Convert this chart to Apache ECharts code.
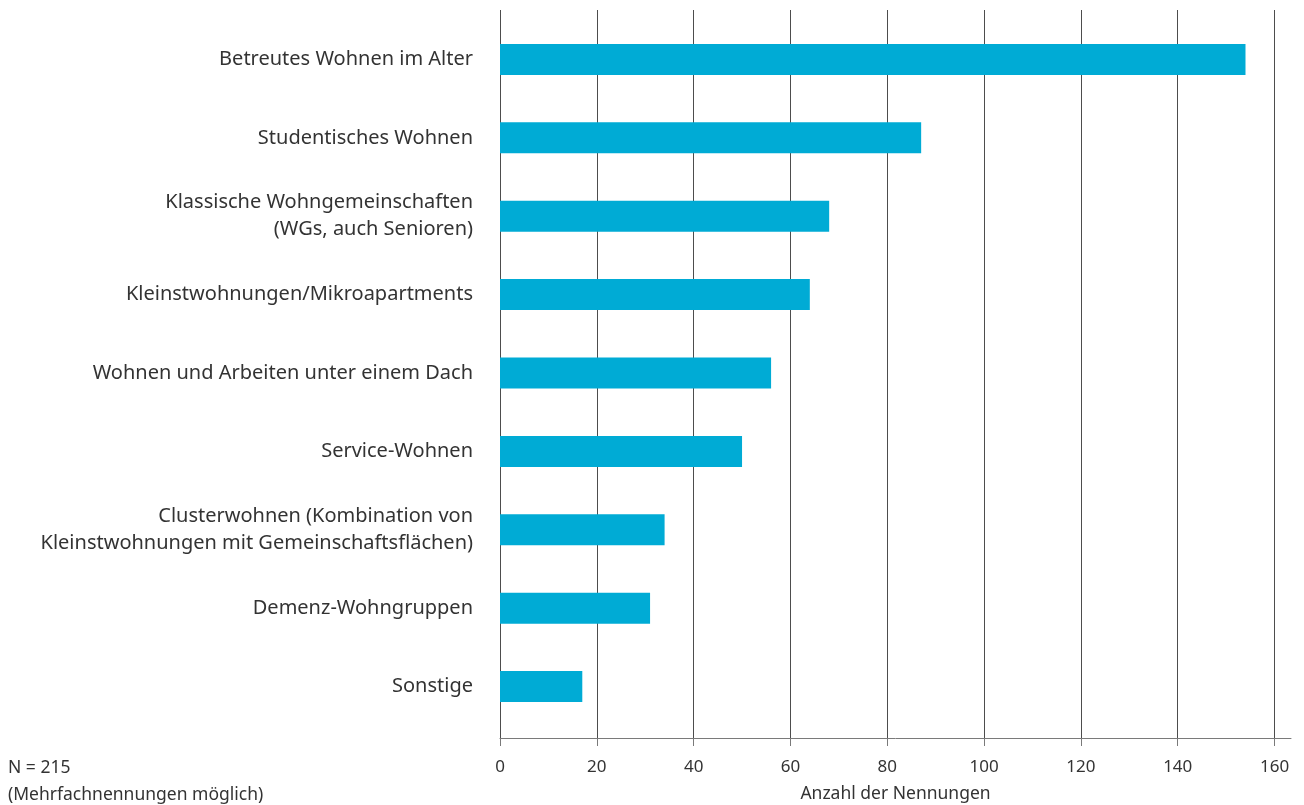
<!DOCTYPE html>
<html>
<head>
<meta charset="utf-8">
<script src="https://cdn.jsdelivr.net/npm/echarts@6/dist/echarts.min.js"></script>
<style>
  html, body { margin: 0; padding: 0; background: #ffffff; }
  #chart { width: 1304px; height: 805px; }
</style>
</head>
<body>
<div id="chart"></div>
<script>
// Wohnformen, Anzahl der Nennungen (top to bottom as listed)
const categories = [
  'Betreutes Wohnen im Alter',
  'Studentisches Wohnen',
  'Klassische Wohngemeinschaften\n(WGs, auch Senioren)',
  'Kleinstwohnungen/Mikroapartments',
  'Wohnen und Arbeiten unter einem Dach',
  'Service-Wohnen',
  'Clusterwohnen (Kombination von\nKleinstwohnungen mit Gemeinschaftsflächen)',
  'Demenz-Wohngruppen',
  'Sonstige'
];
const counts = [154, 87, 68, 64, 56, 50, 34, 31, 17];
const axisTitle = 'Anzahl der Nennungen';
const noteLines = ['N = 215', '(Mehrfachnennungen möglich)'];
const xTicks = [0, 20, 40, 60, 80, 100, 120, 140, 160];

const FONT = '"Noto Sans", "Open Sans", sans-serif';
const TEXT = '#333333';
const X_MIN = 0, X_MAX = 163.4, X_STEP = xTicks[1] - xTicks[0];

const chart = echarts.init(document.getElementById('chart'), null, { renderer: 'canvas' });

chart.setOption({
  backgroundColor: '#ffffff',
  animation: false,
  grid: [
    // bars and category labels
    { left: 500, top: 20.3, width: 791, height: 705.4, containLabel: false, outerBoundsMode: 'none' },
    // value axis with the vertical grid lines
    { left: 500, top: 10, width: 791, height: 728, containLabel: false, outerBoundsMode: 'none' }
  ],
  xAxis: [
    {
      gridIndex: 0, type: 'value', min: X_MIN, max: X_MAX, interval: X_STEP,
      show: false
    },
    {
      gridIndex: 1, type: 'value', min: X_MIN, max: X_MAX, interval: X_STEP,
      axisLine: { show: true, lineStyle: { color: '#7a7a7a', width: 1 } },
      axisTick: { show: true, length: 8, lineStyle: { color: '#7a7a7a', width: 1 } },
      axisLabel: {
        color: TEXT, fontFamily: FONT, fontSize: 17, margin: 21,
        showMaxLabel: false,
        formatter: v => (xTicks.indexOf(v) >= 0 ? String(v) : '')
      },
      splitLine: {
        show: true, showMaxLine: false,
        lineStyle: { color: '#4d4d4d', width: 1 }
      },
      name: axisTitle,
      nameLocation: 'middle',
      nameGap: 47,
      nameTextStyle: { color: TEXT, fontFamily: FONT, fontSize: 17.5 }
    }
  ],
  yAxis: [
    {
      gridIndex: 0, type: 'category', data: categories, inverse: true,
      axisLine: { show: false }, axisTick: { show: false }, splitLine: { show: false },
      axisLabel: {
        color: TEXT, fontFamily: FONT, fontSize: 20, margin: 27,
        lineHeight: 27, align: 'right'
      }
    },
    {
      gridIndex: 1, type: 'category', data: categories, inverse: true,
      show: false
    }
  ],
  series: [
    {
      type: 'bar',
      xAxisIndex: 0, yAxisIndex: 0,
      data: counts,
      barWidth: 31,
      itemStyle: { color: '#00abd5' },
      z: 3
    }
  ],
  graphic: [
    {
      type: 'text', left: 8, top: 755,
      style: {
        text: noteLines.join('\n'), fill: TEXT, font: '17.5px ' + FONT, lineHeight: 27
      }
    }
  ]
});
</script>
</body>
</html>
